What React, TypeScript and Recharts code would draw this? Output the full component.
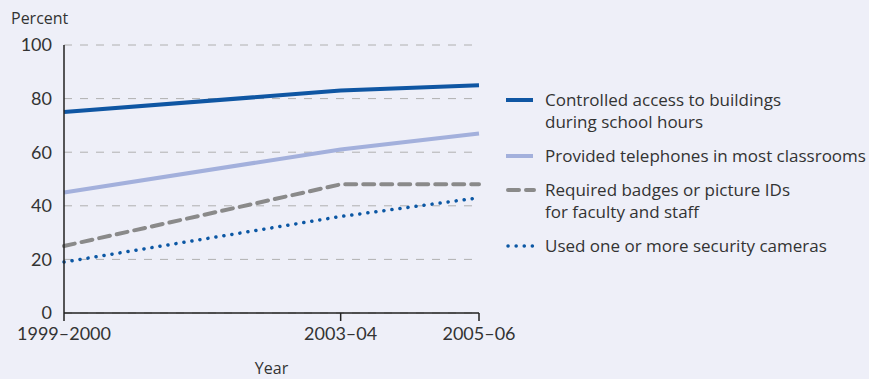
import { LineChart, Line, XAxis, YAxis, CartesianGrid, Legend, Label } from 'recharts'

const years = [1999, 2003, 2005]
const yearLabels = ['1999–2000', '2003–04', '2005–06']
const yTicks = [0, 20, 40, 60, 80, 100]

const controlledAccess = [75, 83, 85]
const telephones = [45, 61, 67]
const badges = [25, 48, 48]
const cameras = [19, 36, 43]

const FONT = 'Lato, "Open Sans", sans-serif'
const LEGEND_FONT = '"Open Sans", Lato, sans-serif'
const TEXT = '#333333'

const series = [
  { key: 'controlled', name: ['Controlled access to buildings', 'during school hours'], color: '#0f56a3', width: 4, dash: undefined as string | undefined, cap: 'butt' },
  { key: 'telephones', name: ['Provided telephones in most classrooms'], color: '#a3b0dc', width: 4, dash: undefined, cap: 'butt' },
  { key: 'badges', name: ['Required badges or picture IDs', 'for faculty and staff'], color: '#8a8a8a', width: 4, dash: '11 7', cap: 'round' },
  { key: 'cameras', name: ['Used one or more security cameras'], color: '#0b57a4', width: 3.5, dash: '0.1 8', cap: 'round' },
]

const data = years.map((year, i) => ({
  year,
  controlled: controlledAccess[i],
  telephones: telephones[i],
  badges: badges[i],
  cameras: cameras[i],
}))

function LegendBox() {
  return (
    <div style={{ fontFamily: LEGEND_FONT, fontSize: 17, color: TEXT, lineHeight: '22px' }}>
      {series.map((s) => (
        <div key={s.key} style={{ display: 'flex', alignItems: 'flex-start', marginBottom: 12 }}>
          <svg width={39} height={22} style={{ flexShrink: 0 }}>
            <line
              x1={s.cap === 'round' ? 2 : 0}
              y1={11}
              x2={s.cap === 'round' ? 28 : 27}
              y2={11}
              stroke={s.color}
              strokeWidth={s.width}
              strokeDasharray={s.dash}
              strokeLinecap={s.cap as 'round' | 'butt'}
            />
          </svg>
          <div style={{ whiteSpace: 'nowrap' }}>
            {s.name.map((line) => (
              <div key={line}>{line}</div>
            ))}
          </div>
        </div>
      ))}
    </div>
  )
}

export default function App() {
  return (
    <div style={{ position: 'absolute', left: 0, top: 0, width: 869, height: 379, background: '#eeeff8' }}>
      <LineChart width={869} height={379} data={data} margin={{ top: 45, right: 390, bottom: 10, left: 10 }}>
        <CartesianGrid vertical={false} stroke="#b0b0b0" strokeDasharray="8 8" />
        <XAxis
          dataKey="year"
          type="number"
          domain={[1999, 2005]}
          ticks={years}
          tickFormatter={(v) => yearLabels[years.indexOf(v)]}
          height={56}
          axisLine={{ stroke: '#222', strokeWidth: 1.5 }}
          tickLine={{ stroke: '#222', strokeWidth: 1.5 }}
          tickSize={8}
          tickMargin={6}
          tick={{ fill: TEXT, fontSize: 18, fontFamily: FONT }}
        >
          <Label value="Year" position="insideBottom" offset={-5} style={{ fill: TEXT, fontSize: 16, fontFamily: LEGEND_FONT }} />
        </XAxis>
        <YAxis
          domain={[0, 100]}
          ticks={yTicks}
          width={54}
          axisLine={{ stroke: '#222', strokeWidth: 1.5 }}
          tickLine={false}
          tickMargin={6}
          tick={{ fill: TEXT, fontSize: 18, fontFamily: FONT }}
        >
          <Label
            content={({ viewBox }) => {
              const { x, y } = viewBox as any
              return (
                <text x={x + 1} y={y - 21} fill={TEXT} fontSize={16} fontFamily={LEGEND_FONT}>
                  Percent
                </text>
              )
            }}
          />
        </YAxis>
        <Legend
          layout="horizontal"
          verticalAlign="middle"
          align="center"
          wrapperStyle={{ left: 506, top: 89, width: 362 }}
          content={() => <LegendBox />}
        />
        {series.map((s) => (
          <Line
            key={s.key}
            dataKey={s.key}
            type="linear"
            stroke={s.color}
            strokeWidth={s.width}
            strokeDasharray={s.dash}
            strokeLinecap={s.cap as 'round' | 'butt'}
            dot={false}
            activeDot={false}
            isAnimationActive={false}
          />
        ))}
      </LineChart>
    </div>
  )
}
